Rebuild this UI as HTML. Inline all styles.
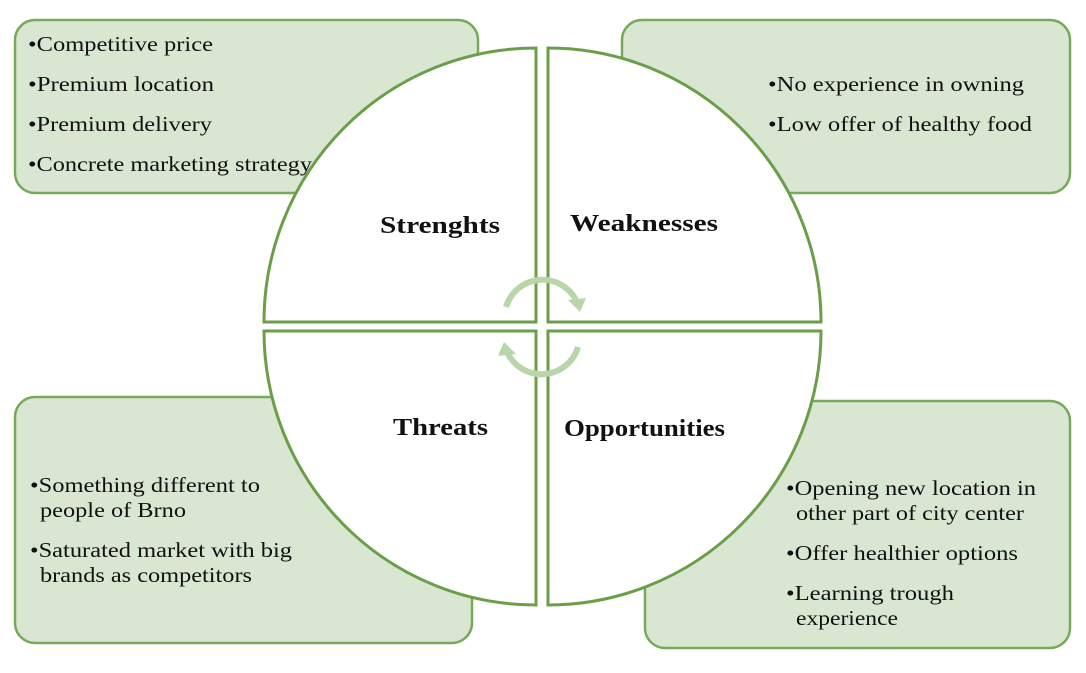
<!DOCTYPE html>
<html><head><style>
body{margin:0;background:#fff;width:1086px;height:673px;overflow:hidden}
svg{display:block}
text{font-family:"Liberation Serif",serif;fill:#111}
.t{font-size:21px}
.b{font-size:24px;font-weight:bold}
</style></head><body>
<svg width="1086" height="673" viewBox="0 0 1086 673">
<g fill="#d9e7d2" stroke="#76a95a" stroke-width="2.5">
<rect x="15" y="20" width="463" height="173" rx="20"/>
<rect x="622" y="20" width="448" height="173" rx="20"/>
<rect x="15" y="397" width="457" height="246" rx="20"/>
<rect x="645" y="401" width="425" height="247" rx="20"/>
</g>
<g fill="#fff" stroke="#6a9e48" stroke-width="3">
<path d="M536,322 L264,322 A272,274 0 0 1 536,48 Z"/>
<path d="M548,322 L548,48 A273,274 0 0 1 821,322 Z"/>
<path d="M536,331 L536,605 A272,274 0 0 1 264,331 Z"/>
<path d="M548,331 L821,331 A273,274 0 0 1 548,605 Z"/>
</g>
<g fill="none" stroke="#b8d6aa" stroke-width="6">
<path d="M506,307 A38,38 0 0 1 576,300"/>
<path d="M578,347 A38,38 0 0 1 508,354"/>
</g>
<g fill="#b8d6aa">
<polygon points="568,300 586,298 580,312"/>
<polygon points="516,354 498,356 504,342"/>
</g>
<text class="b" x="380" y="233" textLength="120" lengthAdjust="spacingAndGlyphs">Strenghts</text>
<text class="b" x="570" y="231" textLength="148" lengthAdjust="spacingAndGlyphs">Weaknesses</text>
<text class="b" x="393" y="435" textLength="95" lengthAdjust="spacingAndGlyphs">Threats</text>
<text class="b" x="564" y="436" textLength="161" lengthAdjust="spacingAndGlyphs">Opportunities</text>
<g lengthAdjust="spacingAndGlyphs">
<text class="t" x="28" y="51" textLength="185" lengthAdjust="spacingAndGlyphs">•Competitive price</text>
<text class="t" x="28" y="91" textLength="186" lengthAdjust="spacingAndGlyphs">•Premium location</text>
<text class="t" x="28" y="131" textLength="184" lengthAdjust="spacingAndGlyphs">•Premium delivery</text>
<text class="t" x="28" y="171" textLength="284" lengthAdjust="spacingAndGlyphs">•Concrete marketing strategy</text>
<text class="t" x="768" y="91" textLength="256" lengthAdjust="spacingAndGlyphs">•No experience in owning</text>
<text class="t" x="768" y="131" textLength="264" lengthAdjust="spacingAndGlyphs">•Low offer of healthy food</text>
<text class="t" x="30" y="492" textLength="230" lengthAdjust="spacingAndGlyphs">•Something different to</text>
<text class="t" x="40" y="517" textLength="146" lengthAdjust="spacingAndGlyphs">people of Brno</text>
<text class="t" x="30" y="557" textLength="262" lengthAdjust="spacingAndGlyphs">•Saturated market with big</text>
<text class="t" x="40" y="582" textLength="212" lengthAdjust="spacingAndGlyphs">brands as competitors</text>
<text class="t" x="786" y="495" textLength="250" lengthAdjust="spacingAndGlyphs">•Opening new location in</text>
<text class="t" x="796" y="520" textLength="228" lengthAdjust="spacingAndGlyphs">other part of city center</text>
<text class="t" x="786" y="560" textLength="232" lengthAdjust="spacingAndGlyphs">•Offer healthier options</text>
<text class="t" x="786" y="600" textLength="168" lengthAdjust="spacingAndGlyphs">•Learning trough</text>
<text class="t" x="796" y="625" textLength="102" lengthAdjust="spacingAndGlyphs">experience</text>
</g>
</svg>
</body></html>
